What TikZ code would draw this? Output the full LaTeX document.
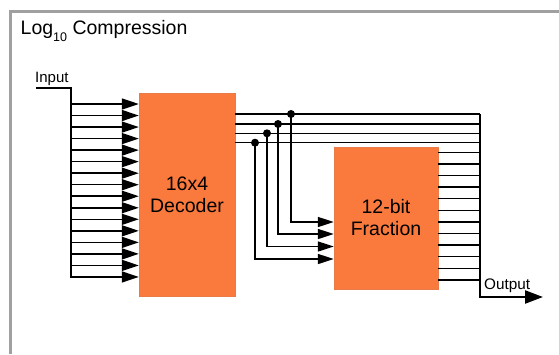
\documentclass[tikz,border=0pt]{standalone}
\usepackage{fontspec}
\setmainfont{Liberation Sans}
\usetikzlibrary{arrows.meta}

\definecolor{blockorange}{RGB}{250,122,62}
\definecolor{framegray}{RGB}{160,160,160}

\tikzset{
  block/.style={fill=blockorange, draw=blockorange!85!gray, line width=0.4pt,
    align=center, inner sep=0pt, font=\fontsize{19.5}{22}\selectfont},
  label/.style={anchor=base west, inner sep=0pt},
  wire/.style={line width=1.5pt},
  bus/.style={line width=2.3pt},
  inarrow/.style={wire, -{Triangle[length=17pt,width=11pt]}},
  fracarrow/.style={wire, -{Triangle[length=16pt,width=10pt]}},
  tap/.style={circle, fill=black, inner sep=0pt, minimum size=8pt},
}

\begin{document}
\begin{tikzpicture}[x=1pt,y=-1pt]
    \useasboundingbox (0,0) rectangle (559,354);

    %frame
    \draw[framegray, line width=2.6pt] (559,11.7) -- (10.7,11.7) -- (10.7,354);

    %title
    \node[label, font=\fontsize{19.5}{19.5}\selectfont] (title) at (20.5,34)
        {Log\raisebox{-7.5pt}{\fontsize{12.5}{12.5}\selectfont 10} Compression};

    %blocks
    \node[block, minimum width=96pt, minimum height=203pt] (dec) at (187,194.5) {16x4\\Decoder};
    \node[block, minimum width=104pt, minimum height=142pt] (frac) at (386,218) {12-bit\\Fraction};

    %input bus
    \coordinate (in) at (36,88);
    \coordinate (inbus) at (71,88);
    \coordinate (inend) at (71,277.5);
    \draw[bus] (in) -- (inbus) -- (inend);
    \node[label, font=\fontsize{15}{15}\selectfont] (inlabel) at (35,82) {Input};
    \foreach \i in {0,...,15} {
        \coordinate (a\i) at (71,104+11.53*\i);
        \draw[inarrow] (a\i) -- (a\i -| dec.west);
    }

    %output bus
    \coordinate (outbus) at (480,114);
    \coordinate (outcorner) at (480,297);
    \coordinate (out) at (543,297);
    \draw[bus, -{Triangle[length=18pt,width=13pt]}] (outbus) -- (outcorner) -- (out);
    \node[label, font=\fontsize{15.3}{15}\selectfont] (outlabel) at (484,289.3) {Output};

    %decoder outputs and taps into the fraction
    \foreach \y/\tx/\fy [count=\k] in {114/291/222, 124/278/234, 133.3/267/246.5, 142.7/255/259} {
        \coordinate (d\k) at (dec.east |- 0,\y);
        \draw[wire] (d\k) -- (d\k -| outbus);
        \node[tap] (t\k) at (\tx,\y) {};
        \coordinate (f\k) at (frac.west |- 0,\fy);
        \draw[fracarrow] (t\k.center) |- (f\k);
    }

    %fraction outputs
    \foreach \i in {0,...,11} {
        \coordinate (o\i) at (frac.east |- 0,152.3+11.6*\i);
        \draw[wire] (o\i) -- (o\i -| outbus);
    }
\end{tikzpicture}
\end{document}
